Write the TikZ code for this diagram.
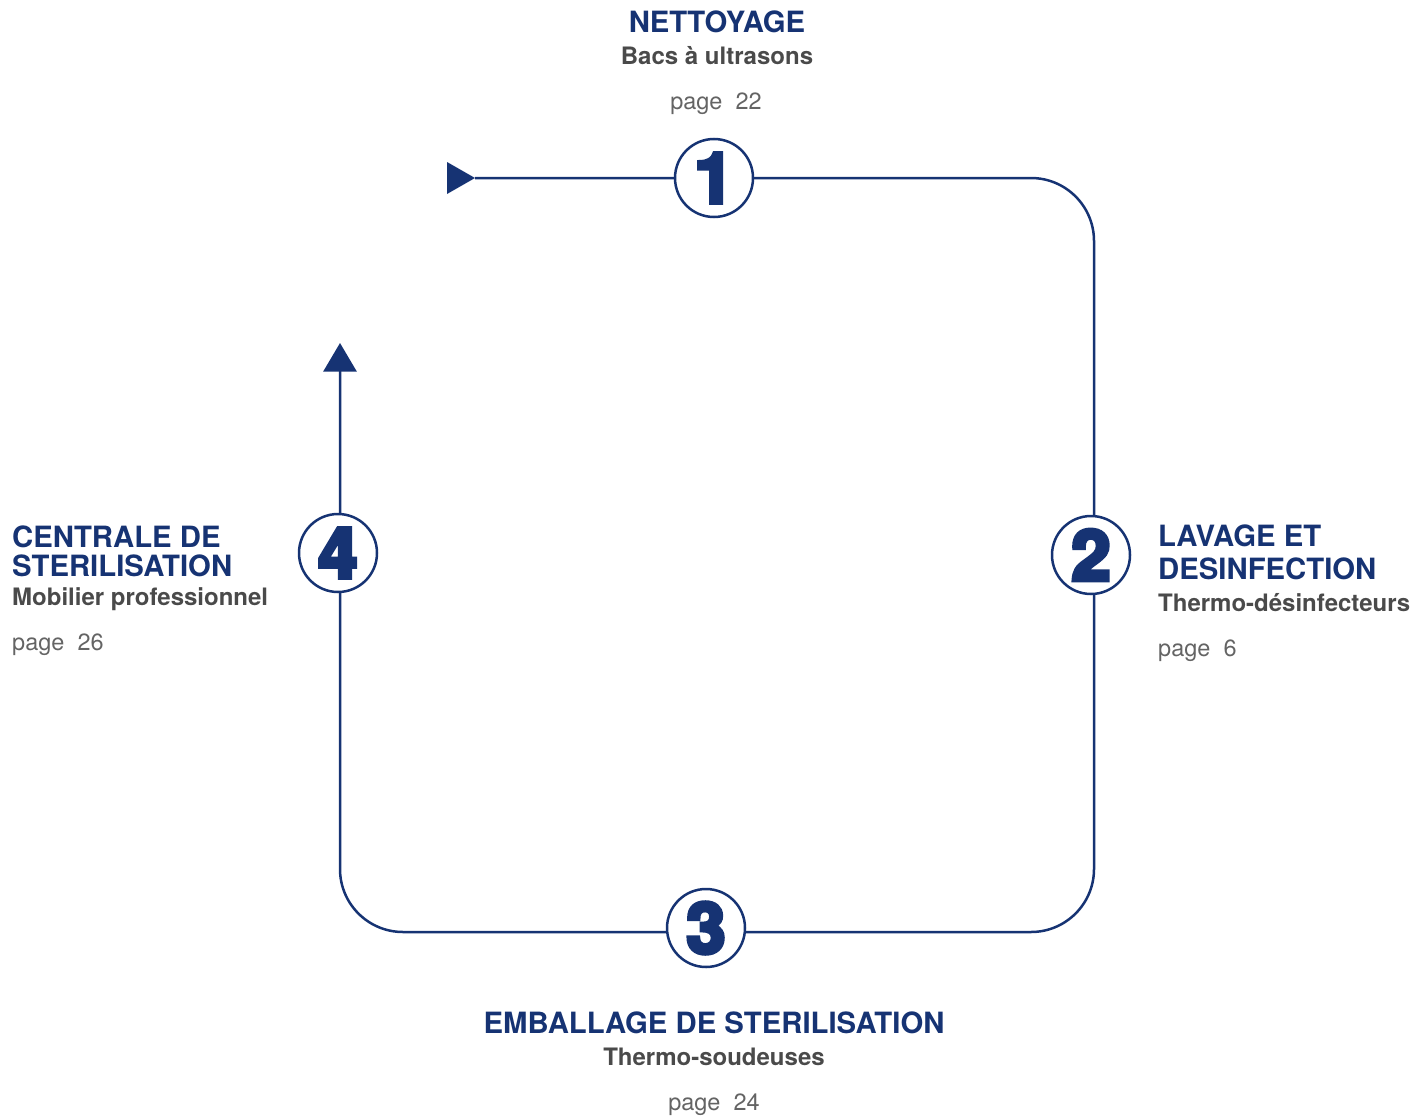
\documentclass[tikz,border=0pt]{standalone}
\usepackage{fontspec}
\setmainfont{TeX Gyre Heros}
\newfontfamily\chiffre{TeX Gyre Heros}[BoldFeatures={FakeBold=6}]
\usepackage{tikz}
\usetikzlibrary{arrows.meta}

\definecolor{bleu}{RGB}{22,51,115}
\definecolor{gris}{RGB}{74,74,74}
\definecolor{grisclair}{RGB}{100,100,100}

\begin{document}
\begin{tikzpicture}[x=1pt, y=-1pt,
    titre/.style={inner sep=0, text=bleu, font=\bfseries\fontsize{29.3}{31}\selectfont},
    soustitre/.style={inner sep=0, text=gris, font=\bfseries\fontsize{24}{26}\selectfont},
    renvoi/.style={inner sep=0, text=grisclair, font=\fontsize{23.5}{26}\selectfont},
    etape/.style={circle, draw=bleu, line width=2.5pt, fill=white, minimum size=78pt,
        inner sep=0, text=bleu, font=\chiffre\bfseries\fontsize{70}{70}\selectfont},
    flux/.style={draw=bleu, line width=2.5pt, rounded corners=63pt}]
    \useasboundingbox (0,0) rectangle (1416,1116);

    % coins du circuit
    \coordinate (depart) at (475,178);
    \coordinate (hd) at (1094,178);
    \coordinate (bd) at (1094,932);
    \coordinate (bg) at (340,932);
    \coordinate (fin) at (340,343);

    % circuit
    \draw[flux, -{Triangle[length=28.5pt, width=33pt]}] (depart) -- (hd) -- (bd) -- (bg) -- (fin);
    \fill[bleu] (447,162) -- (depart) -- (447,194) -- cycle;

    % etapes
    \node[etape] (e1) at (714,178) {1};
    \node[etape] (e2) at (1091,555) {2};
    \node[etape] (e3) at (706,928) {3};
    \node[etape] (e4) at (338,553) {4};

    % 1
    \node[titre, anchor=base] (t1) at (717,33) {NETTOYAGE};
    \node[soustitre, anchor=base] (s1) at (717,65) {Bacs à ultrasons};
    \node[renvoi, anchor=base] (p1) at (716,110) {page~~22};

    % 2
    \node[titre, anchor=base west] (t2a) at (1158,546) {LAVAGE ET};
    \node[titre, anchor=base west] (t2b) at (1158,579) {DESINFECTION};
    \node[soustitre, anchor=base west] (s2) at (1158,611) {Thermo-désinfecteurs};
    \node[renvoi, anchor=base west] (p2) at (1158,656) {page~~6};

    % 3
    \node[titre, anchor=base] (t3) at (714,1033) {EMBALLAGE DE STERILISATION};
    \node[soustitre, anchor=base] (s3) at (714,1065) {Thermo-soudeuses};
    \node[renvoi, anchor=base] (p3) at (714,1110) {page~~24};

    % 4
    \node[titre, anchor=base west] (t4a) at (12,547) {CENTRALE DE};
    \node[titre, anchor=base west] (t4b) at (12,576) {STERILISATION};
    \node[soustitre, anchor=base west] (s4) at (12,605) {Mobilier professionnel};
    \node[renvoi, anchor=base west] (p4) at (12,650) {page~~26};
\end{tikzpicture}
\end{document}
